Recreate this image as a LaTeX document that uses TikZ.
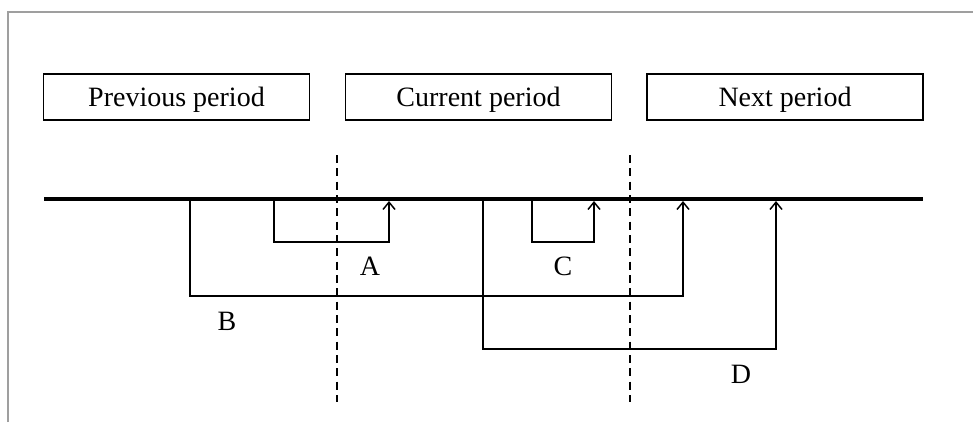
\documentclass[tikz,border=0pt]{standalone}
\usepackage{amsmath}
\usepackage{amssymb}
\usepackage{fontspec}
\setmainfont{Liberation Serif}
\usepackage{tikz}
\usetikzlibrary{arrows.meta}

\tikzset{
  periodbox/.style={draw,line width=0.9pt,inner sep=0pt,minimum height=34.5pt,text depth=0pt,font=\fontsize{21}{25}\selectfont},
  flowline/.style={line width=1.1pt,-{Straight Barb[length=5.5pt,width=9pt]}},
  cutline/.style={line width=2.1pt,dash pattern=on 6pt off 4pt},
  letterlabel/.style={inner sep=0.75pt,font=\fontsize{21}{25}\selectfont}
}

\begin{document}
\begin{tikzpicture}[x=0.75pt,y=0.75pt,yscale=-1,xscale=1]
\useasboundingbox (0,0) rectangle (973,422);

%Frame
\draw [gray!75,line width=0.9pt] (8,422) -- (8,12) -- (973,12) ;

% Text Node
\node [periodbox,minimum width=200pt] (prev) at (176.5,97) {Previous period};
% Text Node
\node [periodbox,minimum width=200pt] (curr) at (478.5,97) {Current period};
% Text Node
\node [periodbox,minimum width=207pt] (next) at (785,97) {Next period};

%Straight Lines
\coordinate (tl) at (44,199);
\coordinate (tr) at (923,199);
\draw [line width=3pt] (tl) -- (tr) ;

%Straight Lines
\coordinate (cut1top) at (337,155);
\coordinate (cut1bot) at (337,402);
\draw [cutline] (cut1top) -- (cut1bot) ;
%Straight Lines
\coordinate (cut2top) at (630,155);
\coordinate (cut2bot) at (630,402);
\draw [cutline] (cut2top) -- (cut2bot) ;

%Straight Lines
\coordinate (aout) at (274,199);
\coordinate (ain) at (389,201);
\draw [flowline] (aout) -- ++(0,43) -| (ain) ;
%Straight Lines
\coordinate (bout) at (190,199);
\coordinate (bin) at (683,201);
\draw [flowline] (bout) -- ++(0,97) -| (bin) ;
%Straight Lines
\coordinate (cout) at (532,199);
\coordinate (cin) at (594,201);
\draw [flowline] (cout) -- ++(0,43) -| (cin) ;
%Straight Lines
\coordinate (dout) at (483,199);
\coordinate (din) at (776,201);
\draw [flowline] (dout) -- ++(0,150) -| (din) ;

% Text Node
\node [letterlabel] (la) at (370,266) {A};
% Text Node
\node [letterlabel] (lb) at (227,321) {B};
% Text Node
\node [letterlabel] (lc) at (563,266) {C};
% Text Node
\node [letterlabel] (ld) at (741,374) {D};

\end{tikzpicture}
\end{document}
